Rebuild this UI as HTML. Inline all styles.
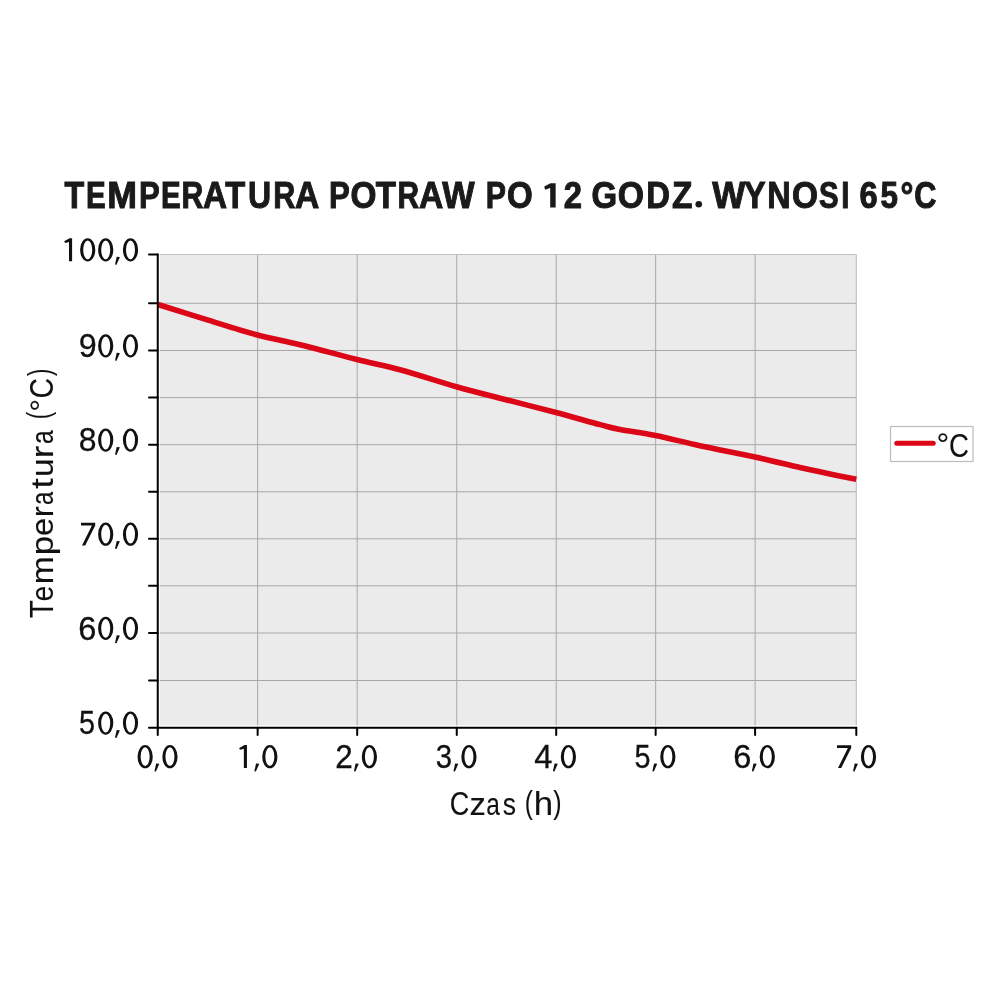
<!DOCTYPE html>
<html><head><meta charset="utf-8">
<style>
html,body{margin:0;padding:0;background:#fff;}
svg{display:block;will-change:transform;}
text{font-family:"Liberation Sans",sans-serif;}
</style></head><body>
<svg width="1000" height="1000" viewBox="0 0 1000 1000">
<rect x="0" y="0" width="1000" height="1000" fill="#fff"/>
<rect x="159.8" y="254.5" width="696.50" height="470.80" fill="#ebebeb"/>
<g stroke="#a8a8a8" stroke-width="1.0" fill="none">
<line x1="257.65" y1="254.5" x2="257.65" y2="725.3" />
<line x1="357.20" y1="254.5" x2="357.20" y2="725.3" />
<line x1="456.75" y1="254.5" x2="456.75" y2="725.3" />
<line x1="556.20" y1="254.5" x2="556.20" y2="725.3" />
<line x1="655.65" y1="254.5" x2="655.65" y2="725.3" />
<line x1="755.10" y1="254.5" x2="755.10" y2="725.3" />
<line x1="159.8" y1="303.30" x2="856.3" y2="303.30" />
<line x1="159.8" y1="350.50" x2="856.3" y2="350.50" />
<line x1="159.8" y1="397.60" x2="856.3" y2="397.60" />
<line x1="159.8" y1="444.70" x2="856.3" y2="444.70" />
<line x1="159.8" y1="491.80" x2="856.3" y2="491.80" />
<line x1="159.8" y1="538.80" x2="856.3" y2="538.80" />
<line x1="159.8" y1="585.80" x2="856.3" y2="585.80" />
<line x1="159.8" y1="633.00" x2="856.3" y2="633.00" />
<line x1="159.8" y1="680.50" x2="856.3" y2="680.50" />
</g>
<g stroke="#c2c2c2" stroke-width="1.2" fill="none">
<line x1="159.8" y1="254.5" x2="856.3" y2="254.5"/>
<line x1="856.3" y1="254.5" x2="856.3" y2="725.3"/>
</g>
<path d="M158.0,304.5 C165.8,306.9 188.4,314.1 205.0,319.2 C221.6,324.3 241.7,330.8 257.5,335.0 C273.3,339.2 283.4,340.6 300.0,344.7 C316.6,348.8 340.3,355.3 357.0,359.5 C373.7,363.7 383.4,365.2 400.0,369.7 C416.6,374.2 439.8,381.9 456.5,386.7 C473.2,391.4 483.4,393.9 500.0,398.2 C516.6,402.5 539.3,408.1 556.0,412.5 C572.7,416.9 589.3,421.8 600.0,424.6 C610.7,427.4 610.8,427.7 620.0,429.5 C629.2,431.3 642.2,432.8 655.5,435.5 C668.8,438.2 683.4,442.1 700.0,445.7 C716.6,449.3 738.3,453.4 755.0,457.0 C771.7,460.6 787.5,464.7 800.0,467.5 C812.5,470.3 820.6,472.1 830.0,474.0 C839.4,475.9 851.9,478.3 856.3,479.2" stroke="#dc0716" stroke-width="5.6" fill="none" stroke-linejoin="round"/>
<g stroke="#000" stroke-width="2" fill="none" stroke-linecap="round">
<line x1="157.75" y1="254.5" x2="157.75" y2="727.7"/>
<line x1="157.75" y1="727.7" x2="856.3" y2="727.7"/>
<line x1="149.0" y1="254.50" x2="157.75" y2="254.50" />
<line x1="149.0" y1="303.30" x2="157.75" y2="303.30" />
<line x1="149.0" y1="350.50" x2="157.75" y2="350.50" />
<line x1="149.0" y1="397.60" x2="157.75" y2="397.60" />
<line x1="149.0" y1="444.70" x2="157.75" y2="444.70" />
<line x1="149.0" y1="491.80" x2="157.75" y2="491.80" />
<line x1="149.0" y1="538.80" x2="157.75" y2="538.80" />
<line x1="149.0" y1="585.80" x2="157.75" y2="585.80" />
<line x1="149.0" y1="633.00" x2="157.75" y2="633.00" />
<line x1="149.0" y1="680.50" x2="157.75" y2="680.50" />
<line x1="149.0" y1="727.70" x2="157.75" y2="727.70" />
<line x1="157.75" y1="727.7" x2="157.75" y2="734.9" />
<line x1="257.65" y1="727.7" x2="257.65" y2="734.9" />
<line x1="357.20" y1="727.7" x2="357.20" y2="734.9" />
<line x1="456.75" y1="727.7" x2="456.75" y2="734.9" />
<line x1="556.20" y1="727.7" x2="556.20" y2="734.9" />
<line x1="655.65" y1="727.7" x2="655.65" y2="734.9" />
<line x1="755.10" y1="727.7" x2="755.10" y2="734.9" />
<line x1="856.30" y1="727.7" x2="856.30" y2="734.9" />
</g>
<rect x="890.5" y="426.5" width="82.5" height="35" fill="#fff" stroke="#bdbdbd" stroke-width="1.2"/>
<line x1="896.8" y1="443.3" x2="933.2" y2="443.3" stroke="#dc0716" stroke-width="5" stroke-linecap="round"/>
<g font-size="36.6" font-weight="bold" fill="#1a1a1a" stroke="#1a1a1a" stroke-width="1.0"><text x="64.60" y="208.2" textLength="19.72" lengthAdjust="spacingAndGlyphs">T</text><text x="85.92" y="208.2" textLength="19.68" lengthAdjust="spacingAndGlyphs">E</text><text x="107.35" y="208.2" textLength="29.76" lengthAdjust="spacingAndGlyphs">M</text><text x="138.88" y="208.2" textLength="20.74" lengthAdjust="spacingAndGlyphs">P</text><text x="160.92" y="208.2" textLength="19.68" lengthAdjust="spacingAndGlyphs">E</text><text x="181.57" y="208.2" textLength="21.89" lengthAdjust="spacingAndGlyphs">R</text><text x="202.91" y="208.2" textLength="24.06" lengthAdjust="spacingAndGlyphs">A</text><text x="225.23" y="208.2" textLength="19.96" lengthAdjust="spacingAndGlyphs">T</text><text x="248.12" y="208.2" textLength="23.12" lengthAdjust="spacingAndGlyphs">U</text><text x="273.18" y="208.2" textLength="22.15" lengthAdjust="spacingAndGlyphs">R</text><text x="295.04" y="208.2" textLength="24.31" lengthAdjust="spacingAndGlyphs">A</text><text x="328.88" y="208.2" textLength="20.74" lengthAdjust="spacingAndGlyphs">P</text><text x="350.52" y="208.2" textLength="25.96" lengthAdjust="spacingAndGlyphs">O</text><text x="375.85" y="208.2" textLength="20.20" lengthAdjust="spacingAndGlyphs">T</text><text x="397.45" y="208.2" textLength="21.63" lengthAdjust="spacingAndGlyphs">R</text><text x="419.04" y="208.2" textLength="24.31" lengthAdjust="spacingAndGlyphs">A</text><text x="442.31" y="208.2" textLength="32.38" lengthAdjust="spacingAndGlyphs">W</text><text x="485.65" y="208.2" textLength="20.21" lengthAdjust="spacingAndGlyphs">P</text><text x="506.91" y="208.2" textLength="25.69" lengthAdjust="spacingAndGlyphs">O</text><text x="563.79" y="208.2" textLength="18.23" lengthAdjust="spacingAndGlyphs">2</text><text x="591.39" y="208.2" textLength="25.63" lengthAdjust="spacingAndGlyphs">G</text><text x="617.64" y="208.2" textLength="26.22" lengthAdjust="spacingAndGlyphs">O</text><text x="646.37" y="208.2" textLength="23.74" lengthAdjust="spacingAndGlyphs">D</text><text x="671.96" y="208.2" textLength="20.40" lengthAdjust="spacingAndGlyphs">Z</text><text x="712.21" y="208.2" textLength="33.10" lengthAdjust="spacingAndGlyphs">W</text><text x="744.12" y="208.2" textLength="21.61" lengthAdjust="spacingAndGlyphs">Y</text><text x="767.24" y="208.2" textLength="23.40" lengthAdjust="spacingAndGlyphs">N</text><text x="792.02" y="208.2" textLength="25.96" lengthAdjust="spacingAndGlyphs">O</text><text x="819.12" y="208.2" textLength="19.58" lengthAdjust="spacingAndGlyphs">S</text><text x="841.24" y="208.2" textLength="8.16" lengthAdjust="spacingAndGlyphs">I</text><text x="859.38" y="208.2" textLength="18.16" lengthAdjust="spacingAndGlyphs">6</text><text x="880.41" y="208.2" textLength="17.47" lengthAdjust="spacingAndGlyphs">5</text><text x="900.39" y="208.2" textLength="12.91" lengthAdjust="spacingAndGlyphs">°</text><text x="914.18" y="208.2" textLength="22.15" lengthAdjust="spacingAndGlyphs">C</text><path d="M555.65,183.3 L555.65,207.4 L550.2,207.4 L550.2,187.9 L545.1,189.7 L544.2,186.6 L550.5,183.3z" stroke="none"/><circle cx="698.75" cy="204.2" r="3.3" stroke="none"/></g>
<path d="M162.35,756.65a7.60,11.65 0 1,0 15.20,0a7.60,11.65 0 1,0 -15.20,0zM165.45,756.65a4.50,9.40 0 1,0 9.00,0a4.50,9.40 0 1,0 -9.00,0zM156.15,763.60 L159.35,763.80 L155.95,771.60 L154.45,771.20zM137.55,756.65a7.60,11.65 0 1,0 15.20,0a7.60,11.65 0 1,0 -15.20,0zM140.65,756.65a4.50,9.40 0 1,0 9.00,0a4.50,9.40 0 1,0 -9.00,0zM262.25,756.65a7.60,11.65 0 1,0 15.20,0a7.60,11.65 0 1,0 -15.20,0zM265.35,756.65a4.50,9.40 0 1,0 9.00,0a4.50,9.40 0 1,0 -9.00,0zM256.05,763.60 L259.25,763.80 L255.85,771.60 L254.35,771.20zM246.95,745.10 L246.95,768.00 L243.85,768.00 L243.85,748.80 L240.35,749.70 L239.15,748.70 L239.45,747.90 L244.45,745.10zM361.80,756.65a7.60,11.65 0 1,0 15.20,0a7.60,11.65 0 1,0 -15.20,0zM364.90,756.65a4.50,9.40 0 1,0 9.00,0a4.50,9.40 0 1,0 -9.00,0zM355.60,763.60 L358.80,763.80 L355.40,771.60 L353.90,771.20zM461.35,756.65a7.60,11.65 0 1,0 15.20,0a7.60,11.65 0 1,0 -15.20,0zM464.45,756.65a4.50,9.40 0 1,0 9.00,0a4.50,9.40 0 1,0 -9.00,0zM455.15,763.60 L458.35,763.80 L454.95,771.60 L453.45,771.20zM560.80,756.65a7.60,11.65 0 1,0 15.20,0a7.60,11.65 0 1,0 -15.20,0zM563.90,756.65a4.50,9.40 0 1,0 9.00,0a4.50,9.40 0 1,0 -9.00,0zM554.60,763.60 L557.80,763.80 L554.40,771.60 L552.90,771.20zM660.25,756.65a7.60,11.65 0 1,0 15.20,0a7.60,11.65 0 1,0 -15.20,0zM663.35,756.65a4.50,9.40 0 1,0 9.00,0a4.50,9.40 0 1,0 -9.00,0zM654.05,763.60 L657.25,763.80 L653.85,771.60 L652.35,771.20zM759.70,756.65a7.60,11.65 0 1,0 15.20,0a7.60,11.65 0 1,0 -15.20,0zM762.80,756.65a4.50,9.40 0 1,0 9.00,0a4.50,9.40 0 1,0 -9.00,0zM753.50,763.60 L756.70,763.80 L753.30,771.60 L751.80,771.20zM860.90,756.65a7.60,11.65 0 1,0 15.20,0a7.60,11.65 0 1,0 -15.20,0zM864.00,756.65a4.50,9.40 0 1,0 9.00,0a4.50,9.40 0 1,0 -9.00,0zM854.70,763.60 L857.90,763.80 L854.50,771.60 L853.00,771.20zM837.00,745.30 L851.20,745.30 L851.20,747.90 L841.20,768.00 L838.00,768.00 L847.90,747.90 L837.00,747.90zM122.90,249.85a7.60,11.65 0 1,0 15.20,0a7.60,11.65 0 1,0 -15.20,0zM126.00,249.85a4.50,9.40 0 1,0 9.00,0a4.50,9.40 0 1,0 -9.00,0zM116.70,256.80 L119.90,257.00 L116.50,264.80 L115.00,264.40zM98.10,249.85a7.60,11.65 0 1,0 15.20,0a7.60,11.65 0 1,0 -15.20,0zM101.20,249.85a4.50,9.40 0 1,0 9.00,0a4.50,9.40 0 1,0 -9.00,0zM80.10,249.85a7.60,11.65 0 1,0 15.20,0a7.60,11.65 0 1,0 -15.20,0zM83.20,249.85a4.50,9.40 0 1,0 9.00,0a4.50,9.40 0 1,0 -9.00,0zM72.10,238.30 L72.10,261.20 L69.00,261.20 L69.00,242.00 L65.50,242.90 L64.30,241.90 L64.60,241.10 L69.60,238.30zM122.90,345.85a7.60,11.65 0 1,0 15.20,0a7.60,11.65 0 1,0 -15.20,0zM126.00,345.85a4.50,9.40 0 1,0 9.00,0a4.50,9.40 0 1,0 -9.00,0zM116.70,352.80 L119.90,353.00 L116.50,360.80 L115.00,360.40zM98.10,345.85a7.60,11.65 0 1,0 15.20,0a7.60,11.65 0 1,0 -15.20,0zM101.20,345.85a4.50,9.40 0 1,0 9.00,0a4.50,9.40 0 1,0 -9.00,0zM122.90,440.05a7.60,11.65 0 1,0 15.20,0a7.60,11.65 0 1,0 -15.20,0zM126.00,440.05a4.50,9.40 0 1,0 9.00,0a4.50,9.40 0 1,0 -9.00,0zM116.70,447.00 L119.90,447.20 L116.50,455.00 L115.00,454.60zM98.10,440.05a7.60,11.65 0 1,0 15.20,0a7.60,11.65 0 1,0 -15.20,0zM101.20,440.05a4.50,9.40 0 1,0 9.00,0a4.50,9.40 0 1,0 -9.00,0zM122.90,534.15a7.60,11.65 0 1,0 15.20,0a7.60,11.65 0 1,0 -15.20,0zM126.00,534.15a4.50,9.40 0 1,0 9.00,0a4.50,9.40 0 1,0 -9.00,0zM116.70,541.10 L119.90,541.30 L116.50,549.10 L115.00,548.70zM98.10,534.15a7.60,11.65 0 1,0 15.20,0a7.60,11.65 0 1,0 -15.20,0zM101.20,534.15a4.50,9.40 0 1,0 9.00,0a4.50,9.40 0 1,0 -9.00,0zM81.00,522.80 L95.20,522.80 L95.20,525.40 L85.20,545.50 L82.00,545.50 L91.90,525.40 L81.00,525.40zM122.90,628.35a7.60,11.65 0 1,0 15.20,0a7.60,11.65 0 1,0 -15.20,0zM126.00,628.35a4.50,9.40 0 1,0 9.00,0a4.50,9.40 0 1,0 -9.00,0zM116.70,635.30 L119.90,635.50 L116.50,643.30 L115.00,642.90zM98.10,628.35a7.60,11.65 0 1,0 15.20,0a7.60,11.65 0 1,0 -15.20,0zM101.20,628.35a4.50,9.40 0 1,0 9.00,0a4.50,9.40 0 1,0 -9.00,0zM122.90,723.05a7.60,11.65 0 1,0 15.20,0a7.60,11.65 0 1,0 -15.20,0zM126.00,723.05a4.50,9.40 0 1,0 9.00,0a4.50,9.40 0 1,0 -9.00,0zM116.70,730.00 L119.90,730.20 L116.50,738.00 L115.00,737.60zM98.10,723.05a7.60,11.65 0 1,0 15.20,0a7.60,11.65 0 1,0 -15.20,0zM101.20,723.05a4.50,9.40 0 1,0 9.00,0a4.50,9.40 0 1,0 -9.00,0z" fill="#111" fill-rule="evenodd"/>
<g fill="#111" stroke="#111" stroke-width="0.3"><text x="335.33" y="768.00" font-size="33.3" textLength="17.51" lengthAdjust="spacingAndGlyphs">2</text><text x="435.65" y="768.00" font-size="33.3" textLength="16.28" lengthAdjust="spacingAndGlyphs">3</text><text x="534.26" y="768.00" font-size="33.3" textLength="18.17" lengthAdjust="spacingAndGlyphs">4</text><text x="634.40" y="768.00" font-size="33.3" textLength="16.04" lengthAdjust="spacingAndGlyphs">5</text><text x="733.17" y="768.00" font-size="33.3" textLength="18.16" lengthAdjust="spacingAndGlyphs">6</text><text x="78.75" y="357.20" font-size="33.3" textLength="17.94" lengthAdjust="spacingAndGlyphs">9</text><text x="78.74" y="451.40" font-size="33.3" textLength="17.75" lengthAdjust="spacingAndGlyphs">8</text><text x="78.37" y="639.70" font-size="33.3" textLength="18.16" lengthAdjust="spacingAndGlyphs">6</text><text x="79.05" y="734.40" font-size="33.3" textLength="16.04" lengthAdjust="spacingAndGlyphs">5</text></g>
<g fill="#111" stroke="#111" stroke-width="0.1"><text transform="matrix(0.8119 0 0 1.0151 449.75 814.56)" font-size="33.3">C</text><text transform="matrix(0.9828 0 0 0.9349 469.59 814.60)" font-size="33.3">z</text><text transform="matrix(0.7347 0 0 0.9337 486.36 814.59)" font-size="33.3">a</text><text transform="matrix(0.7962 0 0 0.9379 502.77 814.59)" font-size="33.3">s</text><text transform="matrix(0.7297 0 0 0.9146 524.84 812.58)" font-size="33.3">(</text><text transform="matrix(1.0458 0 0 1.0148 533.85 814.60)" font-size="33.3">h</text><text transform="matrix(0.7522 0 0 0.9146 553.17 812.58)" font-size="33.3">)</text><text transform="matrix(0.9567 0 0 0.9224 936.47 454.80)" font-size="33.3">°</text><text transform="matrix(0.8309 0 0 1.0193 949.12 456.86)" font-size="33.3">C</text><g transform="translate(53.1 0) rotate(-90)"><text transform="matrix(0.8943 0 0 1.0010 -618.37 0.00)" font-size="33.3">T</text><text transform="matrix(0.8562 0 0 0.9555 -601.61 -0.02)" font-size="33.3">e</text><text transform="matrix(1.0046 0 0 0.9398 -584.17 0.00)" font-size="33.3">m</text><text transform="matrix(1.0477 0 0 0.9593 -555.17 -0.03)" font-size="33.3">p</text><text transform="matrix(0.9776 0 0 0.9555 -535.98 -0.02)" font-size="33.3">e</text><text transform="matrix(0.9990 0 0 0.9398 -517.16 0.00)" font-size="33.3">r</text><text transform="matrix(0.7172 0 0 0.9555 -505.02 -0.02)" font-size="33.3">a</text><text transform="matrix(1.1429 0 0 0.9683 -488.87 -0.02)" font-size="33.3">t</text><text transform="matrix(0.9975 0 0 0.9565 -477.08 -0.02)" font-size="33.3">u</text><text transform="matrix(1.1655 0 0 0.9398 -458.62 0.00)" font-size="33.3">r</text><text transform="matrix(0.7405 0 0 0.9555 -443.95 -0.02)" font-size="33.3">a</text><text transform="matrix(0.6736 0 0 0.9210 -419.15 -3.66)" font-size="33.3">(</text><text transform="matrix(0.9354 0 0 0.9009 -411.59 -2.30)" font-size="33.3">°</text><text transform="matrix(0.8546 0 0 1.0151 -398.42 0.06)" font-size="33.3">C</text><text transform="matrix(0.6736 0 0 0.9339 -376.11 -3.55)" font-size="33.3">)</text></g></g>
</svg>
</body></html>
